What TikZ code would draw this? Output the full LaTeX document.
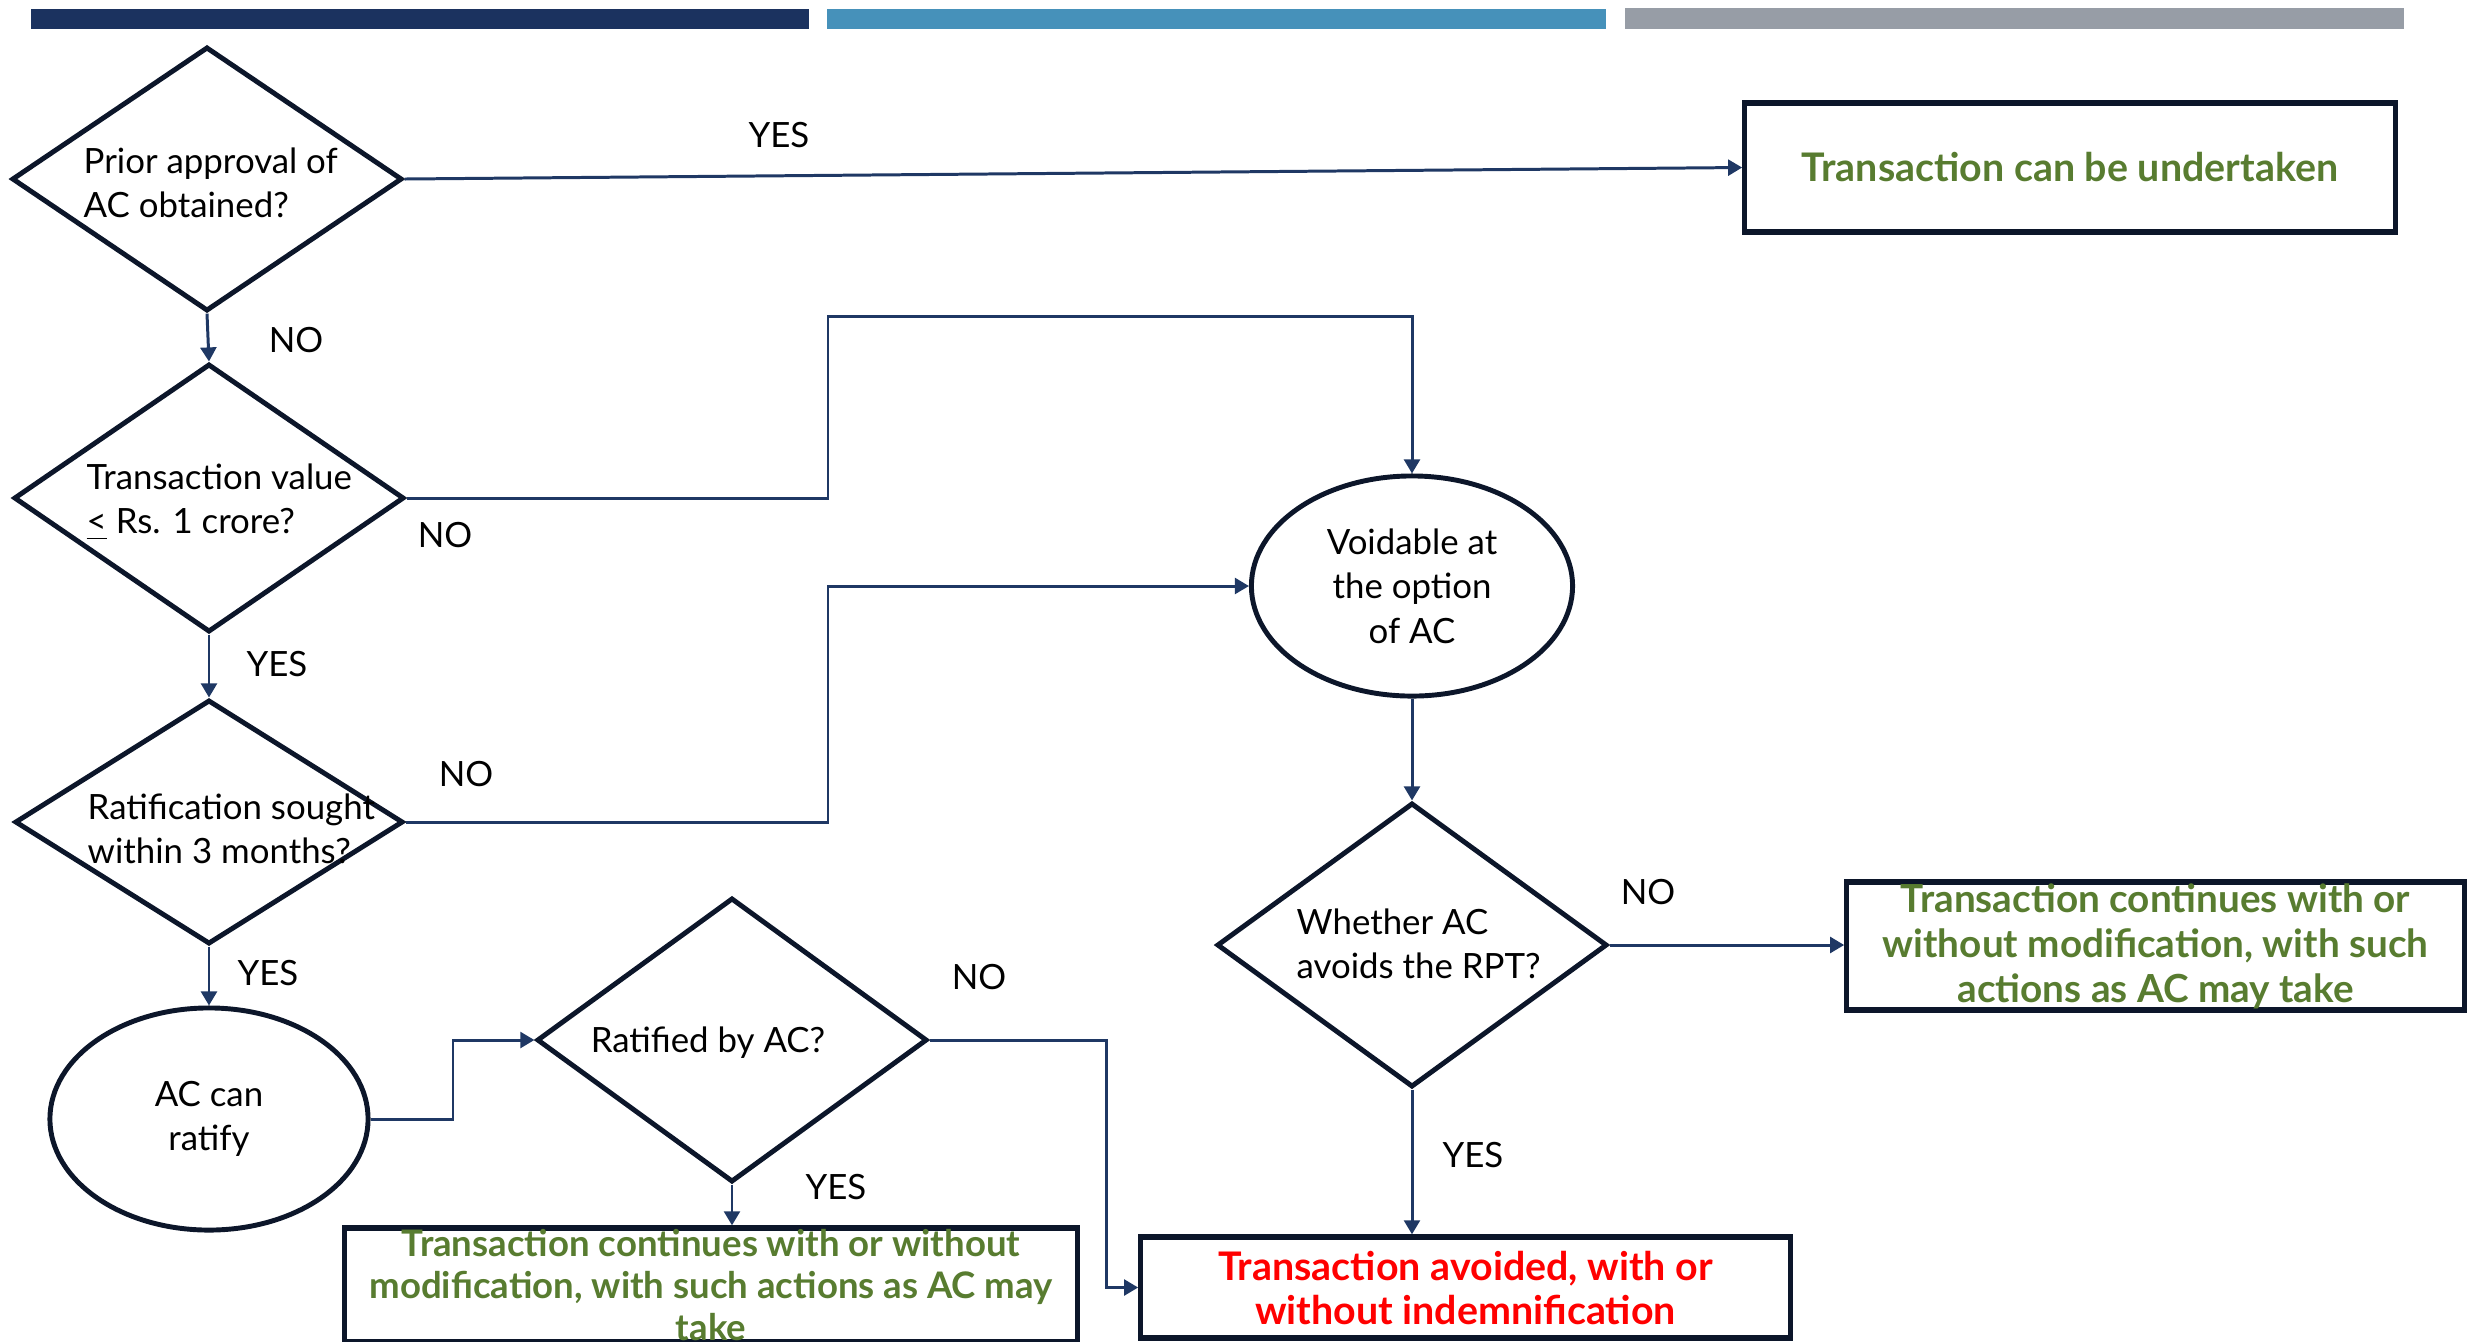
\documentclass[tikz,border=0pt]{standalone}
\usepackage{fontspec}
\setmainfont{Lato}
\usetikzlibrary{shapes.geometric, arrows.meta, calc}

\definecolor{barnavy}{RGB}{27,50,95}
\definecolor{barblue}{RGB}{70,145,186}
\definecolor{bargray}{RGB}{151,157,166}
\definecolor{edgeink}{RGB}{12,22,42}
\definecolor{wire}{RGB}{31,56,100}
\definecolor{okgreen}{RGB}{88,124,48}
\definecolor{alertred}{RGB}{255,0,0}

\tikzset{
  decision/.style={draw=edgeink, line width=1.4pt, shape=diamond, inner sep=0pt},
  oval/.style={draw=edgeink, line width=1.4pt, shape=ellipse, inner sep=0pt,
    align=center, font=\fontsize{9.9}{12.7}\selectfont},
  outcome/.style={draw=edgeink, line width=1.5pt, shape=rectangle, inner sep=0pt,
    align=center, font=\bfseries\fontsize{11.2}{12.6}\selectfont},
  qtext/.style={align=left, inner sep=0pt, font=\fontsize{9.9}{12.5}\selectfont},
  answer/.style={inner sep=0pt, font=\fontsize{9.9}{11}\selectfont},
  link/.style={draw=wire, line width=0.85pt},
  conn/.style={link, -{Triangle[length=4pt,width=4.5pt]}}
}

\begin{document}
\begin{tikzpicture}[x=0.01cm, y=-0.01cm]
\useasboundingbox (0,0) rectangle (2468,1341);

% header bars
\fill[barnavy] (31,9) rectangle (809,29);
\fill[barblue] (827,9) rectangle (1606,29);
\fill[bargray] (1625,8) rectangle (2404,29);

% decisions
\node[decision, minimum width=3.9cm, minimum height=2.64cm] (d1) at (207,179) {};
\node[qtext, anchor=west] (d1t) at (83,183) {Prior approval of\\AC obtained?};

\node[decision, minimum width=3.9cm, minimum height=2.68cm] (d2) at (209,498) {};
\node[qtext, anchor=west] (d2t) at (86,502) {Transaction value\\\underline{<} Rs. 1 crore?};

\node[decision, minimum width=3.88cm, minimum height=2.44cm] (d3) at (209,822) {};
\node[qtext, anchor=west] (d3t) at (87,829) {Ratification sought\\within 3 months?};

\node[decision, minimum width=3.9cm, minimum height=2.84cm] (d4) at (732,1040) {};
\node[qtext, anchor=base] (d4t) at (708,1052) {Ratified by AC?};

\node[decision, minimum width=3.9cm, minimum height=2.84cm] (d5) at (1412,945) {};
\node[qtext, anchor=west] (d5t) at (1296,944) {Whether AC\\avoids the RPT?};

% ovals
\node[oval, minimum width=3.18cm, minimum height=2.22cm] (acr) at (209,1119) {AC can\\ratify};
\node[oval, minimum width=3.21cm, minimum height=2.2cm] (vo) at (1412,586) {Voidable at\\the option\\of AC};

% outcomes
\node[outcome, text=okgreen, minimum width=6.5cm, minimum height=1.29cm] (ok) at (2070,167.5)
  {Transaction can be undertaken};
\node[outcome, text=okgreen, minimum width=6.17cm, minimum height=1.28cm,
  font=\bfseries\fontsize{11}{12.8}\selectfont] (cont) at (2155.5,946)
  {Transaction continues with or\\without modification, with such\\actions as AC may take};
\node[outcome, text=okgreen, minimum width=7.32cm, minimum height=1.14cm,
  font=\bfseries\fontsize{10.4}{12}\selectfont] (ratok) at (711,1285)
  {Transaction continues with or without\\modification, with such actions as AC may\\take};
\node[outcome, text=alertred, minimum width=6.49cm, minimum height=1.01cm,
  font=\bfseries\fontsize{11.2}{12.5}\selectfont, text depth=0pt] (avoid) at (1465.5,1287.5)
  {Transaction avoided, with or\\without indemnification};

% bend points
\coordinate (j1) at (828,316);
\coordinate (j2) at (828,586);
\coordinate (j3) at (453,1040);
\coordinate (j4) at (1106,1287.5);

% connectors
\draw[conn] (d1.east) -- (ok.west);
\draw[conn] (d1.south) -- (d2.north);
\draw[conn] (d2.south) -- (d3.north);
\draw[conn] (d3.south) -- (acr.north);
\draw[conn] (d2.east) -| (j1) -| (vo.north);
\draw[conn] (d3.east) -| (j2) -- (vo.west);
\draw[conn] (vo.south) -- (d5.north);
\draw[conn] (d5.east) -- (d5.east -| cont.west);
\draw[conn] (d5.south) -- (d5.south |- avoid.north);
\draw[conn] (acr.east) -| (j3) -- (d4.west);
\draw[conn] (d4.east) -| (j4) -- (avoid.west);
\draw[conn] (d4.south) -- (d4.south |- ratok.north);

% answers
\node[answer] (a1) at (779,135) {YES};
\node[answer] (a2) at (296,340) {NO};
\node[answer] (a3) at (445,535) {NO};
\node[answer] (a4) at (277,664) {YES};
\node[answer] (a5) at (466,774) {NO};
\node[answer] (a6) at (268,973) {YES};
\node[answer] (a7) at (979,977) {NO};
\node[answer] (a8) at (836,1187) {YES};
\node[answer] (a9) at (1648,892) {NO};
\node[answer] (a10) at (1473,1155) {YES};
\end{tikzpicture}
\end{document}
